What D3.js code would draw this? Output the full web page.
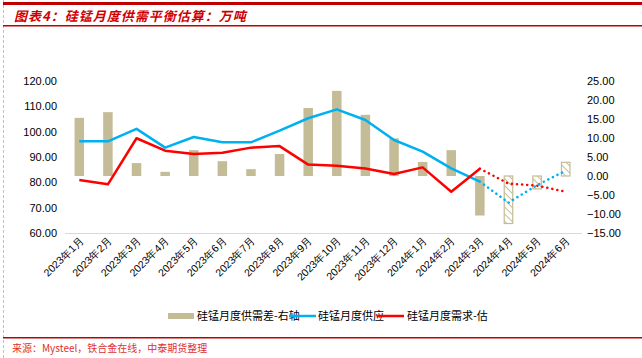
<!DOCTYPE html>
<html><head><meta charset="utf-8">
<script src="https://cdn.jsdelivr.net/npm/d3@7"></script>
<style>body{margin:0;background:#fff}svg{display:block}</style>
</head><body>
<svg id="c" width="642" height="358"></svg>
<script>
const categories = ["2023年1月","2023年2月","2023年3月","2023年4月","2023年5月","2023年6月","2023年7月","2023年8月","2023年9月","2023年10月","2023年11月","2023年12月","2024年1月","2024年2月","2024年3月","2024年4月","2024年5月","2024年6月"];
const gap = [15.3,16.8,3.4,1.1,6.8,3.9,1.8,5.8,17.9,22.4,16.1,9.9,3.7,6.8,-10.4,-12.5,-3.4,3.6];
const supply = [96.2,96.2,101.1,93.7,97.9,95.8,95.8,100.4,105.3,108.8,104.6,96.7,92.1,85.5,80.3,72.0,78.9,84.6];
const demand = [80.9,79.2,97.4,92.5,91.2,91.7,93.7,94.3,87.0,86.5,85.5,83.3,85.9,76.3,85.4,79.5,78.7,76.3];
const forecastStart = 14; // index of 2024年3月, dotted after this
const leftTicks = [60,70,80,90,100,110,120];
const rightTicks = [-15,-10,-5,0,5,10,15,20,25];
const legendLabels = ["硅锰月度供需差-右轴","硅锰月度供应","硅锰月度需求-估"];
const title = "图表4：硅锰月度供需平衡估算：万吨";
const source = "来源：Mysteel，铁合金在线，中泰期货整理";

const svg = d3.select("#c");
const red = "#C00000", tan = "#C4BC96", blue = "#00B0F0", dred = "#FF0000";

// frame decorations
svg.append("line").attr("x1",3.5).attr("x2",3.5).attr("y1",0).attr("y2",358).attr("stroke","#BFBFBF").attr("stroke-dasharray","3,2");
svg.append("rect").attr("x",3).attr("y",2).attr("width",639).attr("height",3).attr("fill",red);
svg.append("rect").attr("x",3).attr("y",25).attr("width",639).attr("height",1.5).attr("fill",red);
svg.append("rect").attr("x",3).attr("y",337).attr("width",639).attr("height",1.5).attr("fill",red);
svg.append("text").attr("x",14).attr("y",21).text(title)
  .attr("fill","#D00000").attr("font-family","Noto Sans CJK SC").attr("font-size",13).attr("font-weight","bold").attr("font-style","italic").attr("letter-spacing",1);
svg.append("text").attr("x",12).attr("y",352).text(source)
  .attr("fill","#E03030").attr("font-family","Noto Sans CJK SC").attr("font-size",10);

const x = d3.scaleBand().domain(categories).range([65,580]);
const yL = d3.scaleLinear().domain([60,120]).range([233,81]);
const yR = d3.scaleLinear().domain([-15,25]).range([233,81]);

// axes
const axL = svg.append("g").attr("transform","translate(65,0)").call(d3.axisLeft(yL).tickValues(leftTicks).tickFormat(d3.format(".2f")).tickSize(0).tickPadding(8));
const axR = svg.append("g").attr("transform","translate(580,0)").call(d3.axisRight(yR).tickValues(rightTicks).tickFormat(d3.format(".2f")).tickSize(0).tickPadding(7));
[axL,axR].forEach(a=>{a.select(".domain").remove();a.selectAll("text").attr("font-family","Liberation Sans, Arial").attr("font-size",11).attr("fill","#000");});

// baseline
svg.append("line").attr("x1",65).attr("x2",582).attr("y1",233.5).attr("y2",233.5).attr("stroke","#D9D9D9");

// x labels
svg.append("g").selectAll("text").data(categories).join("text")
  .attr("transform",d=>`translate(${x(d)+x.bandwidth()/2+5},241) rotate(-45)`)
  .attr("text-anchor","end").attr("font-family","Liberation Sans, Arial").attr("font-size",10.5).attr("fill","#000")
  .text(d=>d);

// hatch pattern
const defs = svg.append("defs");
const pat = defs.append("pattern").attr("id","hatch").attr("patternUnits","userSpaceOnUse").attr("width",5).attr("height",5).attr("patternTransform","rotate(-45)");
pat.append("rect").attr("width",5).attr("height",5).attr("fill","#fff");
pat.append("line").attr("x1",0).attr("x2",0).attr("y1",0).attr("y2",5).attr("stroke",tan).attr("stroke-width",2);

// bars
const bw = 9.5;
svg.append("g").selectAll("rect").data(gap).join("rect")
  .attr("x",(d,i)=>x(categories[i])+x.bandwidth()/2-bw/2 + (i>forecastStart?0.5:0))
  .attr("width",(d,i)=>i>forecastStart?bw-1:bw)
  .attr("y",d=>Math.min(yR(d),yR(0)))
  .attr("height",d=>Math.abs(yR(d)-yR(0)))
  .attr("fill",(d,i)=>i>forecastStart?"url(#hatch)":tan)
  .attr("stroke",(d,i)=>i>forecastStart?tan:"none").attr("stroke-width",1.2);

const cx = i=>x(categories[i])+x.bandwidth()/2;
function drawLine(vals,color){
  const line = d3.line().x((d,i)=>cx(d.i)).y(d=>yL(d.v));
  const pts = vals.map((v,i)=>({v,i}));
  svg.append("path").datum(pts.slice(0,forecastStart+1)).attr("d",line).attr("fill","none").attr("stroke",color).attr("stroke-width",2.5).attr("stroke-linejoin","round");
  svg.append("path").datum(pts.slice(forecastStart)).attr("d",line).attr("fill","none").attr("stroke",color).attr("stroke-width",2.5).attr("stroke-dasharray","0.1,5").attr("stroke-linecap","round");
}
drawLine(supply,blue);
drawLine(demand,dred);

// legend
const lg = svg.append("g").attr("font-family","Noto Sans CJK SC").attr("font-size",11).attr("fill","#000");
lg.append("rect").attr("x",168).attr("y",313).attr("width",26).attr("height",6).attr("fill",tan);
lg.append("text").attr("x",197).attr("y",320).text(legendLabels[0]);
lg.append("line").attr("x1",289).attr("x2",316).attr("y1",316).attr("y2",316).attr("stroke",blue).attr("stroke-width",2.5);
lg.append("text").attr("x",318).attr("y",320).text(legendLabels[1]);
lg.append("line").attr("x1",377).attr("x2",404).attr("y1",316).attr("y2",316).attr("stroke",dred).attr("stroke-width",2.5);
lg.append("text").attr("x",407).attr("y",320).text(legendLabels[2]);
</script>
</body></html>
